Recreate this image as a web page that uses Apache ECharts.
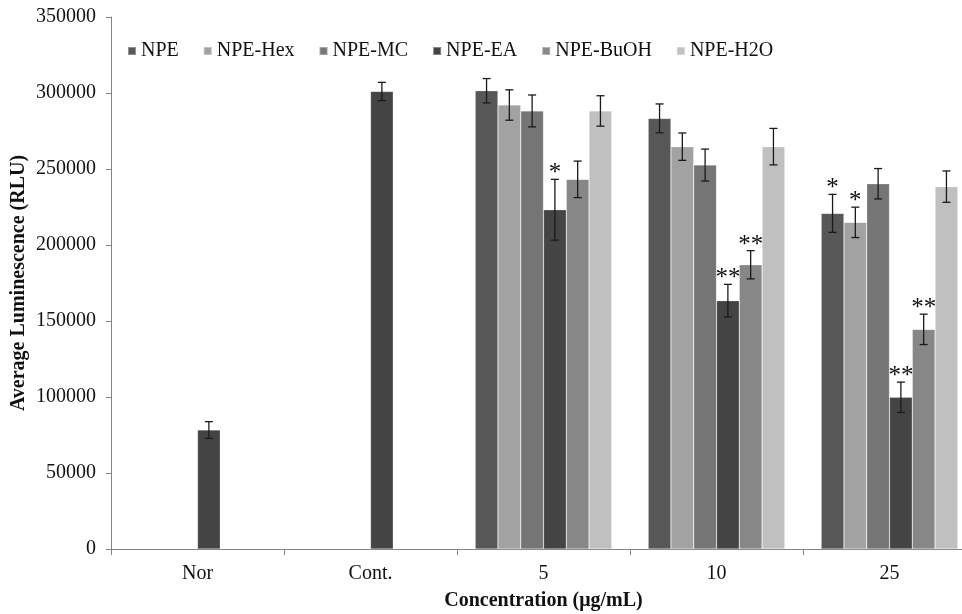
<!DOCTYPE html>
<html>
<head>
<meta charset="utf-8">
<script src="https://cdn.jsdelivr.net/npm/echarts@6/dist/echarts.min.js"></script>
<style>html,body{margin:0;padding:0;background:#fff;}#c{width:962px;height:614px;}</style>
</head>
<body>
<div id="c"></div>
<script>
const categories = ['Nor', 'Cont.', '5', '10', '25'];
const seriesNames = ['NPE', 'NPE-Hex', 'NPE-MC', 'NPE-EA', 'NPE-BuOH', 'NPE-H2O'];

const npe      = [null, null, 301500, 283300, 220800];
const npeHex   = [null, null, 292100, 264700, 214900];
const npeMC    = [null, null, 288200, 252600, 240300];
const npeEA    = [78300, 301000, 223200, 163400, 99800];
const npeBuOH  = [null, null, 243200, 187000, 144500];
const npeH2O   = [null, null, 288200, 264700, 238400];

const npeErr     = [null, null, 8000, 9500, 12500];
const npeHexErr  = [null, null, 10000, 9000, 10000];
const npeMCErr   = [null, null, 10500, 10500, 10000];
const npeEAErr   = [5500, 6000, 20000, 10700, 10000];
const npeBuOHErr = [null, null, 12000, 9300, 10000];
const npeH2OErr  = [null, null, 10000, 12000, 10300];

const npeSig     = ['', '', '', '', '*'];
const npeHexSig  = ['', '', '', '', '*'];
const npeMCSig   = ['', '', '', '', ''];
const npeEASig   = ['', '', '*', '**', '**'];
const npeBuOHSig = ['', '', '', '**', '**'];
const npeH2OSig  = ['', '', '', '', ''];

const yTicks = [0, 50000, 100000, 150000, 200000, 250000, 300000, 350000];

const values = [npe, npeHex, npeMC, npeEA, npeBuOH, npeH2O];
const errors = [npeErr, npeHexErr, npeMCErr, npeEAErr, npeBuOHErr, npeH2OErr];
const sigs = [npeSig, npeHexSig, npeMCSig, npeEASig, npeBuOHSig, npeH2OSig];
const colors = ['#575757', '#a2a2a2', '#757575', '#444444', '#878787', '#c0c0c0'];

const CAT_GAP = 0.21;
const FONT = '"Liberation Serif", "Times New Roman", serif';

const errData = [];
values.forEach((arr, s) => {
  arr.forEach((v, c) => {
    if (v != null) errData.push([c, v, errors[s][c], s, sigs[s][c]]);
  });
});

const barSeries = seriesNames.map((name, s) => ({
  name: name,
  type: 'bar',
  data: values[s],
  barGap: '0%',
  barCategoryGap: (CAT_GAP * 100) + '%',
  itemStyle: { color: colors[s], borderColor: 'rgba(255,255,255,0.35)', borderWidth: 0.6 },
  emphasis: { disabled: true }
}));

const errSeries = {
  type: 'custom',
  silent: true,
  z: 10,
  data: errData,
  encode: { x: 0, y: 1 },
  renderItem: function (params, api) {
    const c = api.value(0), v = api.value(1), e = api.value(2), s = api.value(3);
    const sig = errData[params.dataIndex][4];
    const band = api.size([1, 0])[0];
    const bw = band * (1 - CAT_GAP) / 6;
    const x = api.coord([c, v])[0] + (s - 2.5) * bw;
    const top = api.coord([c, v + e])[1];
    const bot = api.coord([c, v - e])[1];
    const st = { stroke: '#1a1a1a', lineWidth: 1.3 };
    const children = [
      { type: 'line', shape: { x1: x, y1: top, x2: x, y2: bot }, style: st },
      { type: 'line', shape: { x1: x - 4, y1: top, x2: x + 4, y2: top }, style: st },
      { type: 'line', shape: { x1: x - 4, y1: bot, x2: x + 4, y2: bot }, style: st }
    ];
    if (sig) {
      children.push({
        type: 'text',
        style: {
          text: sig, x: x, y: top + 7, align: 'center', verticalAlign: 'bottom',
          font: '25px ' + FONT, fill: '#111'
        }
      });
    }
    return { type: 'group', children: children };
  }
};

const chart = echarts.init(document.getElementById('c'), null, { renderer: 'canvas' });
chart.setOption({
  backgroundColor: '#fff',
  animation: false,
  textStyle: { fontFamily: FONT },
  legend: {
    data: seriesNames,
    left: 127,
    top: 41,
    padding: 0,
    itemWidth: 8,
    itemHeight: 8,
    itemGap: 24,
    icon: 'rect',
    selectedMode: false,
    textStyle: { fontFamily: FONT, fontSize: 20, color: '#111' }
  },
  grid: { left: 111, right: -14, top: 17, bottom: 65, containLabel: false, outerBoundsMode: 'none' },
  xAxis: {
    type: 'category',
    data: categories,
    axisLine: { lineStyle: { color: '#868686', width: 1 } },
    axisTick: { show: true, length: 6, lineStyle: { color: '#868686' } },
    axisLabel: { fontFamily: FONT, fontSize: 20, color: '#111', margin: 15 },
    name: 'Concentration (μg/mL)',
    nameLocation: 'middle',
    nameGap: 42,
    nameMoveOverlap: false,
    nameTextStyle: { fontFamily: FONT, fontSize: 20, fontWeight: 'bold', color: '#111', verticalAlign: 'top' }
  },
  yAxis: {
    type: 'value',
    min: yTicks[0],
    max: yTicks[yTicks.length - 1],
    interval: yTicks[1] - yTicks[0],
    axisLine: { show: true, lineStyle: { color: '#868686', width: 1 } },
    axisTick: { show: true, length: 5, lineStyle: { color: '#868686' } },
    splitLine: { show: false },
    axisLabel: { fontFamily: FONT, fontSize: 20, color: '#111', margin: 15, formatter: v => String(v) },
    name: 'Average Luminescence (RLU)',
    nameLocation: 'middle',
    nameRotate: 90,
    nameGap: 82,
    nameMoveOverlap: false,
    nameTextStyle: { fontFamily: FONT, fontSize: 20, fontWeight: 'bold', color: '#111' }
  },
  series: barSeries.concat([errSeries])
});
</script>
</body>
</html>
